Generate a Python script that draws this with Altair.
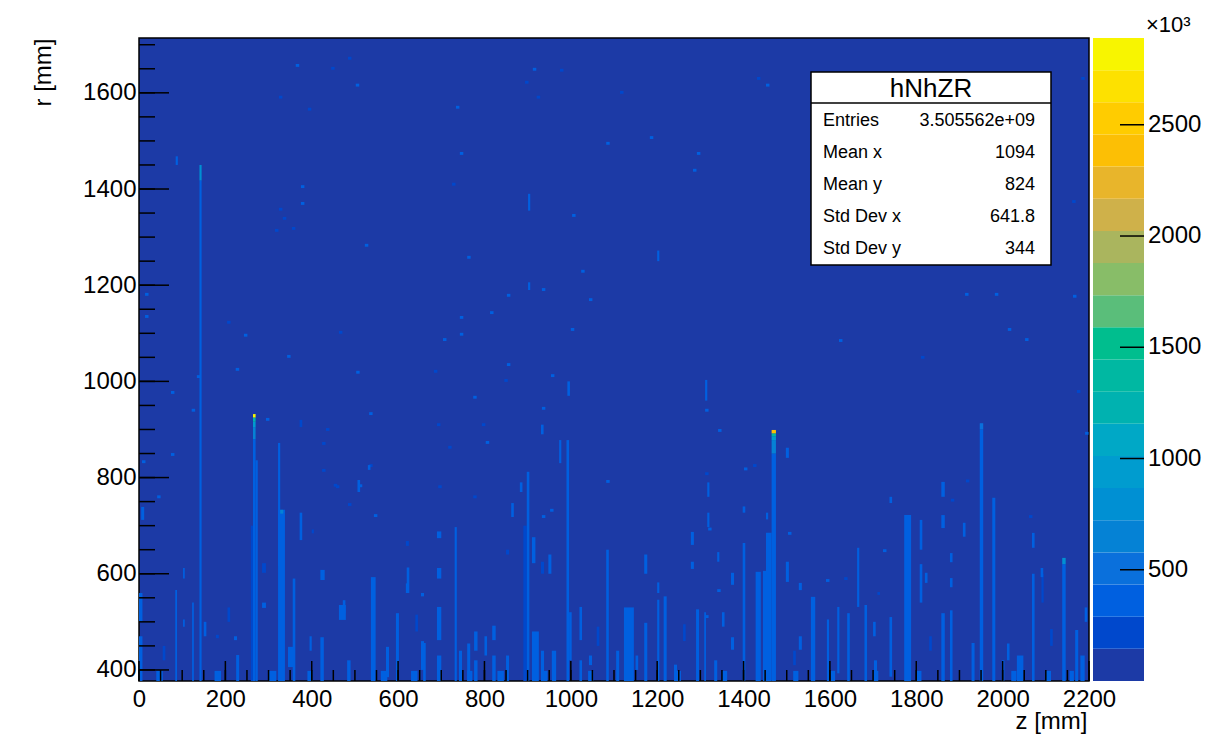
import altair as alt
import pandas as pd

# ---------------------------------------------------------------- data
# hNhZR: number of hits per (z, r) bin, contents in units of 10^3
z_domain = [0, 2200]
r_domain = [377, 1714]
count_max = 2890  # peak bin, top of the colour scale

# 20 colour contours, lowest to highest
palette = ["#1c3aa6", "#0048cc", "#0060e0", "#0a70dc", "#0582d5",
           "#0090d3", "#009ccf", "#00a8c6", "#00b2b0", "#00b8a2",
           "#00be8e", "#5abe7a", "#88bd68", "#aab55e", "#cfb14a",
           "#e8b52b", "#fcbf05", "#ffcc00", "#fde100", "#f8f500"]

# vertical tracks of filled bins: z edges, r edges, content
trk_z0 = [140, 140, 264, 264, 264, 264, 264, 270, 259, 322, 322, 327, 84, 102, 102, 123,
          0, 0, 5, 225, 356, 345, 372, 372, 420, 420, 472, 482, 506, 530, 537, 595, 620,
          658, 690, 690, 690, 690, 731, 776, 776, 818, 818, 862, 882, 898, 890, 948, 973,
          990, 996, 1020, 1020, 1082, 1123, 1105, 1170, 1170, 1200, 1200, 1215, 1278, 1290,
          1309, 1311, 1316, 1316, 1332, 1339, 1371, 1371, 1398, 1398, 1428, 1445, 1452,
          1452, 1465, 1465, 1465, 1465, 1465, 1498, 1498, 1528, 1528, 1556, 1617, 1640,
          1663, 1680, 1738, 1738, 1772, 1808, 1808, 1820, 1858, 1858, 1858, 1878, 1878,
          1878, 1908, 1928, 1947, 1947, 1976, 1998, 2068, 2068, 2088, 2138, 2138, 2168,
          2180, 901, 901, 1200, 85, 992, 931,
          178, 220, 285, 285, 400, 463, 572, 618, 618, 653, 653, 741, 760, 850, 850,
          910, 910, 931, 931, 956, 1042, 1239, 1278, 1593, 1702, 1710, 2033, 2090,
          55, 150, 205, 395, 640, 800, 1060, 1150, 1260, 1350, 1515, 1700, 1830, 2010,
          2110, 2190]
trk_z1 = [145, 145, 270, 270, 270, 270, 270, 275, 264, 327, 338, 334, 88, 106, 106, 127,
          8, 8, 12, 232, 362, 360, 378, 378, 430, 428, 478, 490, 512, 536, 548, 602, 626,
          664, 700, 700, 700, 700, 736, 784, 784, 826, 826, 868, 888, 904, 898, 955, 978,
          996, 1002, 1026, 1026, 1088, 1146, 1112, 1177, 1177, 1205, 1205, 1222, 1285, 1297,
          1313, 1316, 1321, 1321, 1339, 1344, 1378, 1378, 1404, 1404, 1440, 1452, 1465,
          1457, 1475, 1475, 1475, 1475, 1475, 1505, 1505, 1535, 1535, 1566, 1622, 1646,
          1668, 1686, 1744, 1744, 1788, 1814, 1814, 1826, 1866, 1866, 1866, 1884, 1884,
          1884, 1914, 1935, 1955, 1955, 1983, 2004, 2074, 2074, 2094, 2146, 2146, 2175,
          2190, 906, 906, 1205, 90, 998, 937,
          185, 227, 294, 294, 405, 479, 579, 625, 625, 660, 660, 748, 767, 857, 857,
          918, 926, 938, 938, 966, 1049, 1246, 1285, 1598, 1709, 1716, 2048, 2095,
          61, 156, 211, 400, 646, 806, 1066, 1156, 1266, 1356, 1521, 1706, 1836, 2016,
          2116, 2196]
trk_r0 = [377, 1418, 925, 916, 905, 880, 377, 377, 377, 616, 377, 725, 377, 590, 490, 377,
          377, 500, 712, 377, 377, 406, 670, 905, 587, 377, 518, 377, 770, 816, 377, 377, 560,
          377, 674, 590, 462, 377, 377, 440, 377, 462, 377, 718, 770, 377, 377, 600, 830,
          377, 420, 462, 377, 377, 377, 377, 600, 377, 560, 377, 377, 610, 377,
          377, 960, 697, 760, 377, 625, 442, 577, 377, 727, 377, 377, 377,
          713, 892, 886, 878, 850, 377, 583, 841, 442, 566, 377, 393, 377,
          531, 377, 386, 747, 377, 650, 540, 581, 377, 695, 760, 377, 572,
          624, 677, 377, 377, 900, 377, 377, 654, 377, 593, 620, 377, 377,
          377, 1355, 1190, 1250, 1450, 970, 890,
          466, 462, 602, 529, 684, 504, 385, 658, 560, 553, 400, 377, 377, 640, 377,
          622, 377, 600, 377, 377, 410, 377, 660, 377, 377, 556, 377, 540,
          420, 470, 500, 440, 480, 430, 450, 400, 460, 490, 410, 470, 440, 420,
          450, 500]
trk_r1 = [1418, 1450, 932, 925, 916, 905, 880, 836, 700, 872, 733, 733, 566, 612, 505, 540,
          470, 560, 739, 431, 590, 448, 727, 920, 608, 468, 545, 420, 795, 826, 593, 518, 613,
          456, 688, 612, 531, 430, 697, 480, 420, 492, 430, 747, 790, 812, 700, 640, 878,
          878, 520, 531, 420, 650, 530, 440, 640, 498, 582, 546, 553, 625, 526,
          520, 1003, 727, 790, 420, 645, 468, 602, 664, 740, 604, 606, 685,
          727, 899, 892, 886, 878, 850, 625, 862, 470, 581, 552, 531, 518,
          654, 535, 510, 760, 722, 712, 620, 602, 518, 722, 791, 524, 591,
          643, 706, 456, 900, 913, 758, 420, 685, 600, 612, 633, 620, 483,
          430, 1390, 1206, 1272, 1468, 1000, 910,
          473, 470, 622, 540, 692, 535, 448, 668, 580, 560, 460, 440, 455, 650, 430,
          676, 480, 625, 440, 440, 430, 411, 687, 505, 420, 562, 430, 600,
          450, 500, 530, 470, 515, 470, 490, 430, 495, 520, 440, 500, 470, 455,
          485, 530]
trk_n = [300, 800, 2890, 1250, 900, 650, 430, 330, 250, 300, 330, 650, 300, 300, 300, 300,
         300, 300, 300, 330, 300, 430, 300, 250, 300, 300, 300, 330, 300, 300, 360, 300, 300,
         330, 300, 300, 330, 300, 300, 300, 330, 300, 300, 300, 300, 330, 250, 300, 300,
         330, 300, 300, 330, 330, 330, 300, 300, 330, 300, 300, 330, 300, 300,
         300, 300, 300, 300, 330, 300, 330, 300, 330, 300, 360, 360, 400,
         300, 2400, 1400, 950, 650, 430, 300, 300, 300, 300, 360, 330, 330,
         300, 330, 330, 300, 360, 300, 300, 300, 330, 300, 300, 330, 300,
         300, 300, 330, 360, 480, 330, 330, 300, 330, 300, 850, 400, 330,
         330, 300, 300, 300, 300, 300, 300,
         250, 300, 250, 300, 250, 300, 330, 250, 300, 300, 330, 300, 330, 250, 330,
         300, 330, 250, 300, 330, 300, 300, 300, 330, 300, 250, 330, 250,
         250, 300, 250, 300, 250, 300, 250, 300, 250, 300, 250, 300, 250, 300,
         250, 300]

# filled bins along the lowest r row
base_z0 = [40, 175, 300, 390, 560, 630, 760, 830, 935, 1040, 1240, 1350, 1515, 1600,
           1700, 1800, 2020, 2100, 2155]
base_z1 = [55, 190, 318, 402, 575, 645, 772, 845, 946, 1052, 1255, 1362, 1527, 1612,
           1712, 1812, 2032, 2112, 2165]
base_r = [377, 398]
base_n = 330

# isolated hits: bin low edges (z, r) and content
spot_z = [363, 445, 484, 502, 324, 391, 912, 894, 975, 921, 734, 743, 1082, 375, 375,
          324, 333, 354, 315, 725, 523, 760, 1003, 1024, 1042, 933, 852, 813, 743, 743,
          704, 1000, 14, 14, 204, 243, 463, 343, 852, 1431, 1452, 1114, 1183, 1292, 1283,
          1913, 1982, 2163, 2012, 2052, 1621, 1811, 2182, 2161, 224, 134, 74, 122, 503,
          683, 846, 954, 774, 933, 533, 294, 433, 690, 794, 803, 716, 424, 74, 7, 533,
          424, 456, 693, 774, 952, 933, 1082, 544, 484, 42, 1311, 1341, 1311, 1318, 1339,
          1311, 1401, 1422, 1503, 1591, 1633, 1723, 1880, 1915, 2061, 2172, 2191, 509,
          451]
spot_r = [1654, 1648, 1669, 1613, 1588, 1563, 1646, 1619, 1644, 1588, 1567, 1471, 1492,
          1402, 1367, 1355, 1336, 1315, 1311, 1407, 1280, 1255, 1342, 1226, 1167, 1188,
          1176, 1140, 1130, 1095, 1084, 1105, 1178, 1132, 1120, 1093, 1099, 1049, 1032,
          1627, 1613, 1598, 1504, 1471, 1436, 1178, 1178, 1174, 1105, 1084, 1082, 1047,
          1627, 1371, 1022, 1007, 974, 937, 1016, 1018, 999, 1009, 964, 941, 930, 918, 897,
          907, 907, 870, 860, 868, 845, 830, 822, 812, 778, 778, 757, 729, 716, 789, 718,
          741, 757, 937, 895, 805, 690, 562, 508, 815, 822, 681, 583, 587, 645, 750, 790,
          716, 976, 889, 780, 781]
spot_n = [300, 250, 250, 300, 250, 250, 300, 250, 250, 250, 300, 300, 300, 300, 300,
          250, 250, 250, 250, 250, 300, 300, 300, 300, 300, 300, 300, 300, 300, 300,
          300, 300, 300, 300, 250, 300, 250, 300, 300, 250, 300, 250, 300, 300, 300,
          300, 300, 300, 300, 300, 300, 250, 250, 250, 300, 300, 300, 300, 300,
          250, 250, 300, 300, 300, 300, 300, 250, 250, 250, 300, 250, 250, 300, 300, 250,
          250, 250, 250, 250, 300, 300, 300, 300, 250, 300, 300, 300, 250, 300, 300,
          300, 300, 250, 300, 300, 250, 300, 250, 250, 250, 250, 300, 300, 250]
spot_dz, spot_dr = 8, 6  # bin size of an isolated hit (mm)

# statistics box
stat_title = "hNhZR"
stat_names = ["Entries", "Mean x", "Mean y", "Std Dev x", "Std Dev y"]
stat_values = ["3.505562e+09", "1094", "824", "641.8", "344"]

# axis ticks
z_major = list(range(0, 2201, 200))
z_minor = list(range(0, 2201, 50))
r_major = list(range(400, 1601, 200))
r_minor = list(range(400, 1701, 50))
bar_ticks = [500, 1000, 1500, 2000, 2500]

# ---------------------------------------------------------------- frames
tracks = pd.DataFrame({"z0": trk_z0, "z1": trk_z1, "r0": trk_r0, "r1": trk_r1, "n": trk_n})
base = pd.DataFrame({"z0": base_z0, "z1": base_z1, "r0": base_r[0], "r1": base_r[1],
                     "n": base_n})
spots = pd.DataFrame({"z0": spot_z, "r0": spot_r, "n": spot_n})
spots["z1"] = spots["z0"] + spot_dz
spots["r1"] = spots["r0"] + spot_dr
cells = pd.concat([base, spots, tracks], ignore_index=True).sort_values("n", kind="stable")

step = count_max / len(palette)
bar = pd.DataFrame({"lo": [i * step for i in range(len(palette))]})
bar["hi"] = bar["lo"] + step
bar["n"] = bar["lo"] + step / 2

FONT = "Liberation Sans"
W, H = 950, 643
color_scale = alt.Scale(type="quantize", domain=[0, count_max], range=palette,
                        zero=False, nice=False)
x_scale = alt.Scale(domain=z_domain, nice=False, zero=False)
y_scale = alt.Scale(domain=r_domain, nice=False, zero=False)

# ---------------------------------------------------------------- main panel
heat = alt.Chart(cells).mark_rect(strokeWidth=0).encode(
    x=alt.X("z0:Q", scale=x_scale,
            axis=alt.Axis(values=z_major, format="d", ticks=False, domain=False,
                          grid=False, labelFont=FONT, labelFontSize=24,
                          labelColor="black", labelPadding=6, labelFlush=False,
                          labelOverlap=False,
                          title="z [mm]", titleFont=FONT, titleFontSize=24,
                          titleFontWeight="normal", titleColor="black",
                          titleAnchor="end", titleAlign="right", titleBaseline="middle",
                          titleX=W - 2, titleY=40)),
    x2="z1:Q",
    y=alt.Y("r0:Q", scale=y_scale,
            axis=alt.Axis(values=r_major, format="d", ticks=False, domain=False,
                          grid=False, labelFont=FONT, labelFontSize=24,
                          labelColor="black", labelPadding=3, labelFlush=False,
                          labelOverlap=False,
                          title="r [mm]", titleFont=FONT, titleFontSize=24,
                          titleFontWeight="normal", titleColor="black",
                          titleAngle=-90, titleAlign="right", titleBaseline="middle",
                          titleX=-96, titleY=0)),
    y2="r1:Q",
    color=alt.Color("n:Q", scale=color_scale, legend=None),
)


def z_ticks(values, length):
    """Inward tick marks along the bottom edge."""
    return alt.Chart(pd.DataFrame({"z0": values})).mark_rule(
        color="black", strokeWidth=1.5).encode(
        x=alt.X("z0:Q", scale=x_scale), y=alt.value(H), y2=alt.value(H - length))


def r_ticks(values, length):
    """Inward tick marks along the left edge."""
    return alt.Chart(pd.DataFrame({"r0": values})).mark_rule(
        color="black", strokeWidth=1.5).encode(
        y=alt.Y("r0:Q", scale=y_scale), x=alt.value(0), x2=alt.value(length))


ticks = [z_ticks(z_minor, 11), z_ticks(z_major, 20), r_ticks(r_minor, 16),
         r_ticks(r_major, 30)]

# statistics box (pixel placement inside the frame)
BX0, BX1, BY0, BY1 = 672, 912, 34, 227
box_df = pd.DataFrame({"title": [stat_title]})
box = alt.Chart(box_df).mark_rect(fill="white", stroke="black", strokeWidth=1.5).encode(
    x=alt.value(BX0), x2=alt.value(BX1), y=alt.value(BY0), y2=alt.value(BY1))
box_line = alt.Chart(box_df).mark_rule(color="black", strokeWidth=1.5).encode(
    x=alt.value(BX0), x2=alt.value(BX1), y=alt.value(65))
box_title = alt.Chart(box_df).mark_text(font=FONT, fontSize=26, color="black",
                                        align="center", baseline="middle").encode(
    x=alt.value((BX0 + BX1) / 2), y=alt.value(51), text="title:N")

rows = pd.DataFrame({"name": stat_names, "value": stat_values,
                     "row": list(range(len(stat_names)))})
row_base = alt.Chart(rows).transform_calculate(py="83 + datum.row * 32")
row_names = row_base.mark_text(font=FONT, fontSize=18, color="black", align="left",
                               baseline="middle").encode(
    x=alt.value(BX0 + 12), y=alt.Y("py:Q", scale=None), text="name:N")
row_values = row_base.mark_text(font=FONT, fontSize=18, color="black", align="right",
                                baseline="middle").encode(
    x=alt.value(BX1 - 16), y=alt.Y("py:Q", scale=None), text="value:N")

main = alt.layer(heat, *ticks, box, box_line, box_title, row_names, row_values).properties(
    width=W, height=H,
    view=alt.ViewBackground(fill=palette[0], stroke="black", strokeWidth=1.5),
)

# ---------------------------------------------------------------- colour bar
BW = 51
bar_y = alt.Scale(domain=[0, count_max], nice=False, zero=False)
bar_rects = alt.Chart(bar).mark_rect(strokeWidth=0).encode(
    x=alt.value(0), x2=alt.value(BW),
    y=alt.Y("lo:Q", scale=bar_y, axis=None),
    y2="hi:Q",
    color=alt.Color("n:Q", scale=color_scale, legend=None),
)
tick_df = pd.DataFrame({"lo": bar_ticks, "label": [str(v) for v in bar_ticks]})
bar_ticks_rule = alt.Chart(tick_df).mark_rule(color="black", strokeWidth=1.5).encode(
    y=alt.Y("lo:Q", scale=bar_y, axis=None),
    x=alt.value(BW - 24), x2=alt.value(BW),
)
bar_labels = alt.Chart(tick_df).mark_text(font=FONT, fontSize=24, color="black",
                                          align="left", baseline="middle").encode(
    y=alt.Y("lo:Q", scale=bar_y, axis=None),
    x=alt.value(BW + 4), text="label:N",
)
exp_label = alt.Chart(pd.DataFrame({"t": ["×10³"]})).mark_text(
    font=FONT, fontSize=22, color="black", align="left", baseline="middle").encode(
    x=alt.value(BW + 2), y=alt.value(-13), text="t:N")

colorbar = alt.layer(bar_rects, bar_ticks_rule, bar_labels, exp_label).properties(
    width=120, height=H,
    view=alt.ViewBackground(stroke="transparent", strokeWidth=0),
)

chart = alt.hconcat(main, colorbar, spacing=4, bounds="flush").properties(
    padding={"left": 30, "top": 14, "right": 0, "bottom": 0},
    background="white",
).configure_view(stroke="transparent")

chart.save("out.html", embed_options={"renderer": "svg", "actions": False})
